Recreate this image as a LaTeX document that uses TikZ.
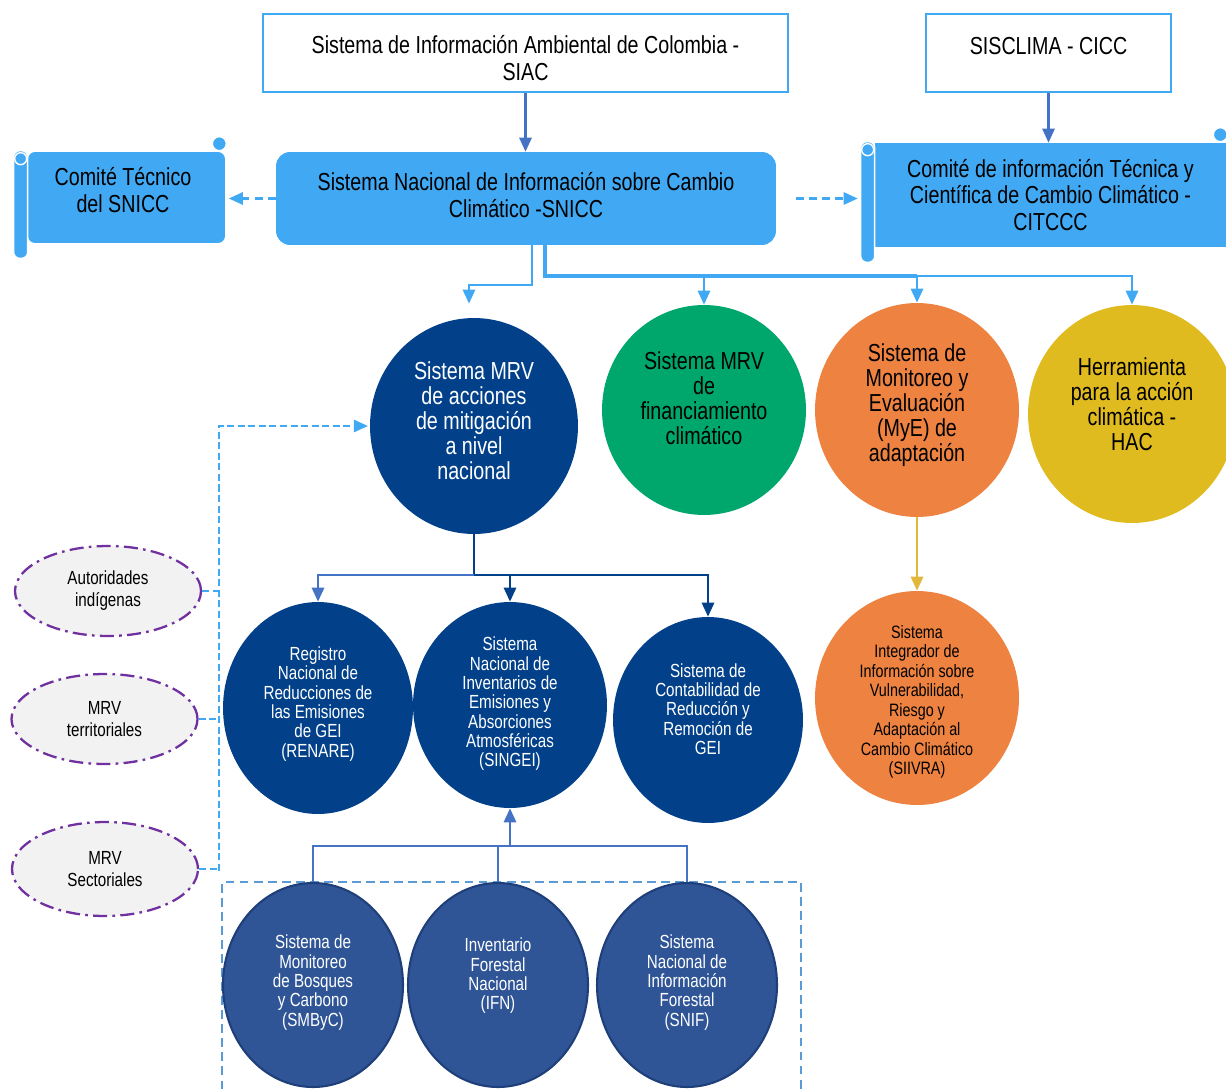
\documentclass[tikz,border=0pt]{standalone}
\usepackage{fontspec}
\setmainfont{Liberation Sans}[FakeStretch=0.8]
\usetikzlibrary{positioning,arrows.meta,shapes.geometric}
\definecolor{skyblue}{HTML}{41A9F3}
\definecolor{midblue}{HTML}{4472C4}
\definecolor{mrvnavy}{HTML}{02418A}
\definecolor{mrvgreen}{HTML}{00A76D}
\definecolor{mrvorange}{HTML}{ED8241}
\definecolor{mrvgold}{HTML}{E0BB20}
\definecolor{forestblue}{HTML}{2F5597}
\definecolor{forestedge}{HTML}{1F3F7A}
\definecolor{purpleedge}{HTML}{7030A0}
\definecolor{dashblue}{HTML}{5B9BD5}
\definecolor{arrowgold}{HTML}{E2B83C}
\newcommand{\txtbig}{\fontsize{14}{15.3}\selectfont}
\newcommand{\txtcirc}{\fontsize{14}{14.2}\selectfont}
\newcommand{\txtsmall}{\fontsize{10.8}{11}\selectfont}
\newcommand{\txtsiivra}{\fontsize{10.2}{11.1}\selectfont}
\newcommand{\txtactor}{\fontsize{10.8}{12.5}\selectfont}

\begin{document}
\begin{tikzpicture}[
  x=0.02cm, y=-0.02cm,
  >={Triangle[length=8pt,width=7pt]},
  topbox/.style={draw=skyblue, line width=1.2pt, fill=white, inner sep=0pt},
  mainbox/.style={rounded corners=8pt, fill=skyblue, inner sep=0pt},
  scrollbox/.style={rounded corners=4pt, fill=skyblue, align=center,
                    inner sep=0pt, font=\txtbig},
  rollpart/.style={fill=skyblue, draw=white, line width=0.8pt},
  btext/.style={align=center, inner sep=0pt, font=\txtbig},
  circ/.style={ellipse, inner sep=0pt},
  ctext/.style={align=center, inner sep=0pt, font=\txtcirc},
  stext/.style={align=center, inner sep=0pt, font=\txtsmall},
  forestcirc/.style={ellipse, inner sep=0pt, fill=forestblue, draw=forestedge,
                     line width=1.2pt, minimum width=3.6cm, minimum height=4.08cm},
  actor/.style={ellipse, fill=black!5, draw=purpleedge, line width=1.3pt,
                dash pattern=on 8pt off 3pt on 1.5pt off 3pt, font=\txtactor,
                inner sep=0pt, align=center, minimum width=3.72cm, minimum height=1.8cm},
  forestbox/.style={draw=dashblue, line width=1.2pt, dash pattern=on 5pt off 3pt},
  darr/.style={->, draw=midblue, line width=1.2pt},
  link/.style={draw=skyblue, line width=1.3pt},
  navylink/.style={draw=mrvnavy, line width=1.3pt},
  flink/.style={draw=midblue, line width=1.3pt},
  goldarr/.style={->, draw=arrowgold, line width=1.3pt},
  dashlink/.style={->, draw=skyblue, line width=1.2pt, dash pattern=on 4.5pt off 3pt},
  dlink/.style={draw=skyblue, line width=1pt, dash pattern=on 4pt off 2pt},
]
\useasboundingbox (0,0) rectangle (1226,1091);

% ---- top sources ----
\node[topbox, minimum width=10.5cm, minimum height=1.56cm] (siac) at (525.5,53) {};
\node[btext] (siac-t) at (525.5,58.5) {Sistema de Información Ambiental de Colombia -\\SIAC};
\node[topbox, minimum width=4.9cm, minimum height=1.56cm] (sisclima) at (1048.5,53) {};
\node[btext] (sisclima-t) at (1048.5,46) {SISCLIMA - CICC};

% ---- national system ----
\node[mainbox, minimum width=10cm, minimum height=1.86cm] (snicc) at (526,198.5) {};
\node[btext] (snicc-t) at (526,195) {Sistema Nacional de Información sobre Cambio\\Climático -SNICC};

% ---- committees (scrolls) ----
\node[scrollbox, minimum width=3.94cm, minimum height=1.82cm] (comite) at (126.5,197.5) {};
\node[scrollbox, rounded corners=0pt, minimum width=7.02cm, minimum height=2.08cm] (citccc) at (1050.5,195)
      {Comité de información Técnica y\\Científica de Cambio Climático -\\CITCCC};
\foreach \s in {comite,citccc}{
  \draw[rollpart, rounded corners=3.5pt] ([shift={(-14,-1)}]\s.north west) rectangle ([shift={(0,15)}]\s.south west);
  \draw[rollpart] ([shift={(-7,7)}]\s.north west) circle[radius=0.12cm];
  \draw[rollpart] ([shift={(-6,-8)}]\s.north east) circle[radius=0.14cm];
}
\node[btext] (comite-t) at (123,190.5) {Comité Técnico\\del SNICC};

% ---- forest box (behind) ----
\node[forestbox, minimum width=11.58cm, minimum height=4.36cm] (forest) at (511.5,991) {};

% ---- subsystems ----
\node[circ, fill=mrvnavy, minimum width=4.16cm, minimum height=4.32cm] (mrvmit) at (474,426) {};
\node[circ, fill=mrvgreen, minimum width=4.08cm, minimum height=4.2cm] (fin) at (704,410) {};
\node[circ, fill=mrvorange, minimum width=4.08cm, minimum height=4.28cm] (mye) at (917,410) {};
\node[circ, fill=mrvgold, minimum width=4.16cm, minimum height=4.36cm] (hac) at (1132,414) {};
\node[ctext, text=white] (mrvmit-t) at (474,421) {Sistema MRV\\de acciones\\de mitigación\\a nivel\\nacional};
\node[ctext] (fin-t) at (704,398) {Sistema MRV\\de\\financiamiento\\climático};
\node[ctext] (mye-t) at (917,405) {Sistema de\\Monitoreo y\\Evaluación\\(MyE) de\\adaptación};
\node[ctext] (hac-t) at (1132,404) {Herramienta\\para la acción\\climática -\\HAC};

% ---- adaptation ----
\node[circ, fill=mrvorange, minimum width=4.08cm, minimum height=4.28cm] (siivra) at (917,698) {};
\node[stext, font=\txtsiivra] (siivra-t) at (917,702)
      {Sistema\\Integrador de\\Información sobre\\Vulnerabilidad,\\Riesgo y\\Adaptación al\\Cambio Climático\\(SIIVRA)};

% ---- mitigation components ----
\node[circ, fill=mrvnavy, minimum width=3.8cm, minimum height=4.24cm] (renare) at (318,708) {};
\node[circ, fill=mrvnavy, minimum width=3.88cm, minimum height=4.12cm] (singei) at (510,705) {};
\node[circ, fill=mrvnavy, minimum width=3.8cm, minimum height=4.12cm] (contab) at (708,720) {};
\node[stext, text=white] (renare-t) at (318,704) {Registro\\Nacional de\\Reducciones de\\las Emisiones\\de GEI\\(RENARE)};
\node[stext, text=white] (singei-t) at (510,704) {Sistema\\Nacional de\\Inventarios de\\Emisiones y\\Absorciones\\Atmosféricas\\(SINGEI)};
\node[stext, text=white] (contab-t) at (708,709) {Sistema de\\Contabilidad de\\Reducción y\\Remoción de\\GEI};

% ---- forest information ----
\node[forestcirc] (smbyc) at (313,985) {};
\node[forestcirc] (ifn)   at (498,985) {};
\node[forestcirc] (snif)  at (687,985) {};
\node[stext, text=white] (smbyc-t) at (313,982.5) {Sistema de\\Monitoreo\\de Bosques\\y Carbono\\(SMByC)};
\node[stext, text=white] (ifn-t)   at (498,976) {Inventario\\Forestal\\Nacional\\(IFN)};
\node[stext, text=white] (snif-t)  at (687,982.5) {Sistema\\Nacional de\\Información\\Forestal\\(SNIF)};

% ---- territorial / sectoral actors ----
\node[actor] (autind) at (108,591) {Autoridades\\indígenas};
\node[actor] (mrvterr) at (104.5,719) {MRV\\territoriales};
\node[actor, minimum height=1.88cm] (mrvsect) at (105,869) {MRV\\Sectoriales};

% ---- edges: inputs ----
\draw[darr] (siac.south) -- (siac.south |- snicc.north);
\draw[darr] (sisclima.south) -- (sisclima.south |- citccc.north);

% ---- edges: committees ----
\coordinate (citin) at ([xshift=-0.34cm]citccc.west);
\draw[dashlink, shorten >=2pt] (snicc.west) -- (snicc.west -| comite.east);
\draw[dashlink, shorten <=11pt] (snicc.east) -- (snicc.east -| citin);

% ---- edges: national system to subsystems ----
\coordinate (leftdrop) at (532,285);
\coordinate (bus) at (545,276);
\draw[link, ->, shorten >=8pt] (snicc.south -| leftdrop) -- (leftdrop) -| ([xshift=-0.1cm]mrvmit.north);
\draw[link, line width=2.4pt] (snicc.south -| bus) -- (bus) -- (bus -| mye.north);
\draw[link, ->] (bus -| mye.north) -| (hac.north);
\foreach \c in {fin,mye}{
  \draw[link, ->] (bus -| \c.north) -- (\c.north);
}
\draw[goldarr] (mye.south) -- (siivra.north);

% ---- edges: mitigation components ----
\coordinate (split) at (474,575);
\draw[navylink] (mrvmit.south) -- (split);
\foreach \c/\col in {renare/midblue,singei/mrvnavy,contab/mrvnavy}{
  \draw[navylink, ->, draw=\col] (split) -| (\c.north);
}

% ---- edges: forest information ----
\coordinate (join) at (510,846);
\foreach \c in {smbyc,ifn,snif}{
  \draw[flink] (\c.north) |- (join);
}
\draw[flink, ->] (join) -- (singei.south);

% ---- edges: actors ----
\coordinate (vbus) at (219,871);
\draw[dlink, ->, shorten >=1pt] (vbus) |- (mrvmit.west);
\foreach \e in {autind,mrvterr,mrvsect}{
  \draw[dlink] (\e.east) -- (\e.east -| vbus);
}
\end{tikzpicture}
\end{document}
